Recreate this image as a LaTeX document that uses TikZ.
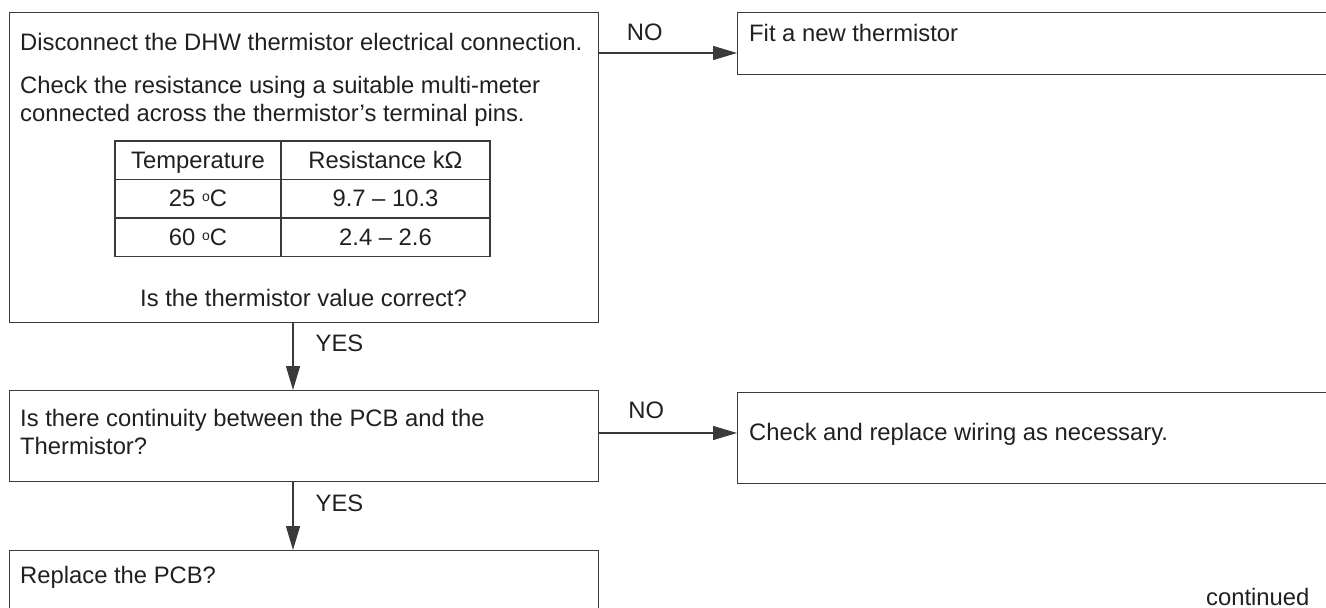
\documentclass[tikz,border=0pt]{standalone}
\usepackage{fontspec}
\setmainfont{Liberation Sans}
\usetikzlibrary{arrows.meta, positioning}
\definecolor{linegray}{HTML}{3A3A3A}
\definecolor{inkgray}{HTML}{231F20}
\newcommand{\dego}{\raisebox{5pt}{\fontsize{14pt}{14pt}\selectfont o}}

\begin{document}
\begin{tikzpicture}[
    x=1pt, y=-1pt,
    >={Triangle[length=24pt, width=14pt]},
    box/.style ={draw=linegray, line width=1.4pt, anchor=north west, inner sep=0pt},
    txt/.style ={inner sep=0pt, text=inkgray, align=left,
                 font=\fontsize{23.8pt}{28.8pt}\selectfont},
    cell/.style={txt, draw=linegray, line width=1.4pt, anchor=north west, align=center,
                 outer sep=0pt, minimum height=38.5pt, text height=17pt, text depth=1pt},
    flow/.style={->, draw=linegray, line width=1.4pt},
]
\useasboundingbox (0,0) rectangle (1326,608);
\clip (0,0) rectangle (1326,608);

% boxes of the chart
\node[box, minimum width=589pt, minimum height=310pt] (check) at (9,12) {};
\node[box, minimum width=620pt, minimum height=62pt]  (fit)   at (737,12) {};
\node[box, minimum width=589pt, minimum height=91pt]  (cont)  at (9,390) {};
\node[box, minimum width=620pt, minimum height=91pt]  (wire)  at (737,392) {};
\node[box, minimum width=589pt, minimum height=90pt]  (pcb)   at (9,550) {};

% texts inside the boxes
\node[txt, anchor=base west] (disc) at (20,50) {Disconnect the DHW thermistor electrical connection.};
\node[txt, anchor=north west] (meas) at (20,75.7) {Check the resistance using a suitable multi-meter\\connected across the thermistor’s terminal pins.};
\node[txt, anchor=base] (ask) at (303.5,306) {Is the thermistor value correct?};
\node[txt, anchor=base west] (fittxt) at (749,41) {Fit a new thermistor};
\node[txt, anchor=north west] (conttxt) at (20,408.7) {Is there continuity between the PCB and the\\Thermistor?};
\node[txt, anchor=base west] (wiretxt) at (749,440) {Check and replace wiring as necessary.};
\node[txt, anchor=base west] (pcbtxt) at (20,583) {Replace the PCB?};
\node[txt, anchor=base west] (more) at (1206,605) {continued};

% resistance table
\node[cell, minimum width=166pt] (temp) at (115,141) {Temperature};
\node[cell, minimum width=209pt, right=0pt of temp] (res) {Resistance kΩ};
\node[cell, minimum width=166pt, below=0pt of temp] (t25) {25 \dego C};
\node[cell, minimum width=209pt, right=0pt of t25] (r25) {9.7 -- 10.3};
\node[cell, minimum width=166pt, below=0pt of t25] (t60) {60 \dego C};
\node[cell, minimum width=209pt, right=0pt of t60] (r60) {2.4 -- 2.6};

% connectors
\coordinate (noA) at (0,53);
\coordinate (noB) at (0,433);
\coordinate (yes) at (293,0);
\draw[flow] (check.east |- noA) -- (fit.west |- noA)
   node[txt, pos=0.33, anchor=base, yshift=13pt] {NO};
\draw[flow] (check.south -| yes) -- (cont.north -| yes)
   node[txt, pos=0.5, anchor=base west, xshift=22pt, yshift=5pt] {YES};
\draw[flow] (cont.east |- noB) -- (wire.west |- noB)
   node[txt, pos=0.34, anchor=base, yshift=15pt] {NO};
\draw[flow] (cont.south -| yes) -- (pcb.north -| yes)
   node[txt, pos=0.5, anchor=base west, xshift=22pt, yshift=5pt] {YES};
\end{tikzpicture}
\end{document}
